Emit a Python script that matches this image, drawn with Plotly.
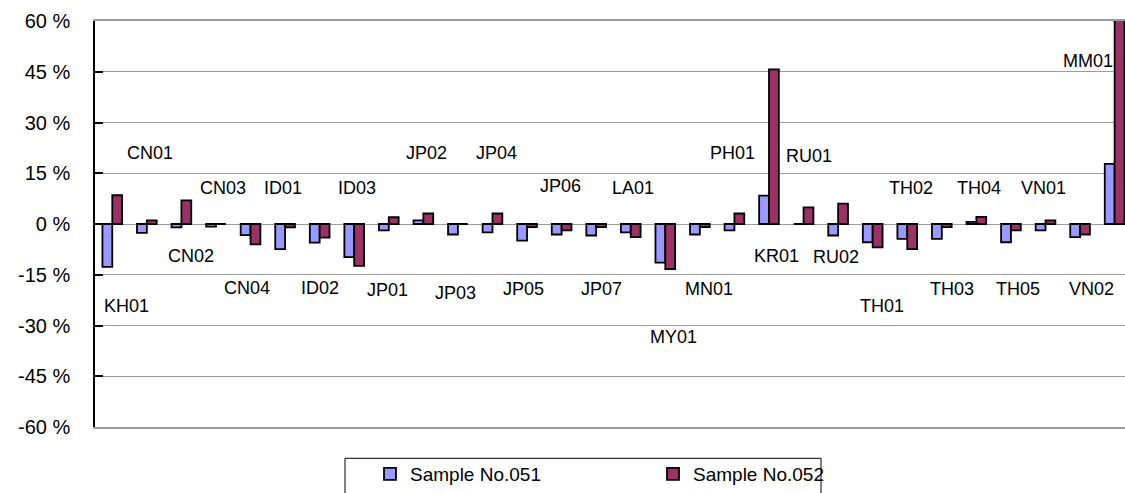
import plotly.graph_objects as go

# Sites along the category axis
sites = ["KH01", "CN01", "CN02", "CN03", "CN04", "ID01", "ID02", "ID03",
         "JP01", "JP02", "JP03", "JP04", "JP05", "JP06", "JP07", "LA01",
         "MY01", "MN01", "PH01", "KR01", "RU01", "RU02", "TH01", "TH02",
         "TH03", "TH04", "TH05", "VN01", "VN02", "MM01"]

# Relative deviation (%) for each sample
sample_051 = [-12.7, -2.6, -1.0, -0.8, -3.3, -7.4, -5.5, -9.8,
              -1.9, 1.1, -3.1, -2.5, -4.9, -3.1, -3.4, -2.5,
              -11.4, -3.1, -1.9, 8.4, 0.0, -3.4, -5.4, -4.4,
              -4.4, 0.6, -5.4, -1.9, -3.9, 17.8]
sample_052 = [8.5, 1.1, 7.0, 0.0, -6.0, -1.0, -4.0, -12.4,
              2.0, 3.1, 0.0, 3.1, -0.9, -1.9, -0.9, -3.9,
              -13.3, -0.9, 3.1, 45.7, 4.9, 6.0, -6.9, -7.4,
              -0.9, 2.1, -1.9, 1.1, -3.1, 61.0]

series_names = ["Sample No.051", "Sample No.052"]
y_ticks = [-60, -45, -30, -15, 0, 15, 30, 45, 60]
y_tick_labels = ["-60 %", "-45 %", "-30 %", "-15 %", "0 %",
                 "15 %", "30 %", "45 %", "60 %"]

# Site label placement: height on the value axis and horizontal nudge (px)
label_y = [-24.1, 20.9, -9.5, 10.6, -19.0, 10.6, -19.0, 10.6,
           -19.6, 20.9, -20.4, 20.9, -19.3, 11.2, -19.3, 10.6,
           -33.5, -19.3, 20.9, -9.5, 20.0, -9.8, -24.1, 10.6,
           -19.3, 10.6, -19.3, 10.6, -19.3, 48.1]
label_dx = [14, 3, 10, 7, -4, -2, 0, 3,
            -1, 3, -2, 4, -4, -1, 5, 2,
            8, 9, -2, 8, 5, -2, 9, 4,
            10, 3, 7, -2, 11, -27]

FONT = "Liberation Sans, Arial, sans-serif"
GRID = "#9c9c9c"

fig = go.Figure()
fig.add_trace(go.Bar(x=sites, y=sample_051, name=series_names[0],
                     marker=dict(color="#9999FF", line=dict(color="#000000", width=1.8))))
fig.add_trace(go.Bar(x=sites, y=sample_052, name=series_names[1],
                     marker=dict(color="#993366", line=dict(color="#000000", width=1.8))))

for name, yv, dx in zip(sites, label_y, label_dx):
    fig.add_annotation(x=name, y=yv, text=name, showarrow=False,
                       xshift=dx, xanchor="center", yanchor="middle",
                       font=dict(family=FONT, size=18, color="#000000"))

# Frame around the legend row
fig.add_shape(type="rect", xref="paper", yref="paper",
              x0=(345 - 95) / 1030, x1=(821 - 95) / 1030,
              y0=-(458 - 426.7) / 406, y1=-(500 - 426.7) / 406,
              line=dict(color="#000000", width=1), fillcolor="rgba(0,0,0,0)")

fig.update_layout(
    width=1125, height=493,
    margin=dict(l=95, r=0, t=21, b=66),
    paper_bgcolor="#ffffff", plot_bgcolor="#ffffff",
    barmode="group", bargap=0.43, bargroupgap=0,
    font=dict(family=FONT, size=19, color="#000000"),
    showlegend=True,
    legend=dict(orientation="h", x=(370 - 95) / 1030, xanchor="left",
                y=-(474 - 426.7) / 406, yanchor="middle",
                entrywidth=238, entrywidthmode="pixels",
                bgcolor="rgba(0,0,0,0)", borderwidth=0,
                font=dict(family=FONT, size=19), traceorder="normal"),
    xaxis=dict(type="category", range=[-0.5, 29.3], showticklabels=False,
               ticks="", showgrid=False, zeroline=False,
               showline=True, linecolor=GRID, linewidth=1.5, mirror=True),
    yaxis=dict(range=[-60, 60], tickmode="array", tickvals=y_ticks,
               ticktext=y_tick_labels,
               ticks="inside", ticklen=8, tickcolor="#000000", tickwidth=1.5,
               ticklabelstandoff=19,
               showgrid=True, gridcolor=GRID, gridwidth=1,
               zeroline=True, zerolinecolor=GRID, zerolinewidth=1,
               showline=True, linecolor="#000000", linewidth=1.5,
               tickfont=dict(family=FONT, size=20)),
)

fig.write_html("out.html")
